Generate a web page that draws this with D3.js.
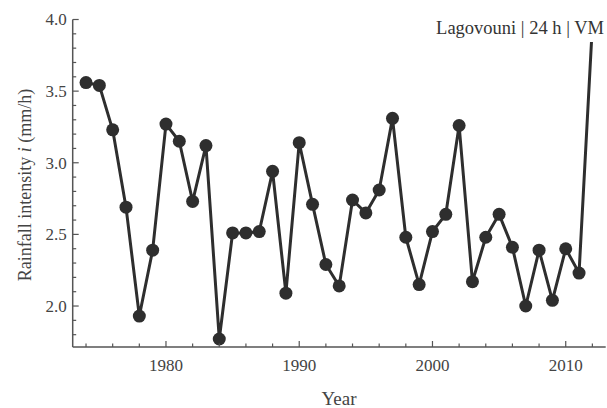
<!DOCTYPE html>
<html><head><meta charset="utf-8">
<script src="https://cdn.jsdelivr.net/npm/d3@7"></script>
<style>body{margin:0;background:#fff}svg{display:block}</style>
</head><body>
<svg id="c" width="607" height="408"></svg>
<script>
const years = d3.range(1974, 2013);
const intensity = [3.56,3.54,3.23,2.69,1.93,2.39,3.27,3.15,2.73,3.12,1.77,2.51,2.51,2.52,2.94,2.09,3.14,2.71,2.29,2.14,2.74,2.65,2.81,3.31,2.48,2.15,2.52,2.64,3.26,2.17,2.48,2.64,2.41,2.00,2.39,2.04,2.40,2.23,3.96];
const xMajorTicks = [1980,1990,2000,2010];
const yMajorTicks = [2.0,2.5,3.0,3.5,4.0];
const titleText = "Lagovouni | 24 h | VM";

const svg = d3.select("#c");
const x = d3.scaleLinear().domain([1973,2013]).range([72.7,605.7]);
const y = d3.scaleLinear().domain([1.714,4.0]).range([347,19.5]);
const axisCol = "#555", textCol = "#444", markCol = "#2e2e2e";
const font = "'Liberation Serif','Times New Roman',serif";

svg.append("clipPath").attr("id","clip").append("rect")
  .attr("x",x.range()[0]).attr("y",y.range()[1]).attr("width",x.range()[1]-x.range()[0]).attr("height",y.range()[0]-y.range()[1]);

const data = years.map((yr,i)=>({yr, v:intensity[i]}));
const g = svg.append("g").attr("clip-path","url(#clip)");
g.append("path").datum(data)
  .attr("fill","none").attr("stroke",markCol).attr("stroke-width",3).attr("stroke-linejoin","round")
  .attr("d", d3.line().x(d=>x(d.yr)).y(d=>y(d.v)));
g.selectAll("circle").data(data).join("circle")
  .attr("cx",d=>x(d.yr)).attr("cy",d=>y(d.v)).attr("r",6.5).attr("fill",markCol);

// axes
const xAxis = svg.append("g").attr("transform",`translate(0,${y.range()[0]})`);
xAxis.append("line").attr("x1",x.range()[0]).attr("x2",x.range()[1]).attr("stroke",axisCol).attr("stroke-width",1.5);
const xMinor = d3.range(1974, 2013, 2).filter(t=>!xMajorTicks.includes(t));
xAxis.selectAll(".xm").data(xMinor).join("line").attr("x1",d=>x(d)).attr("x2",d=>x(d)).attr("y1",0).attr("y2",-3.5).attr("stroke",axisCol).attr("stroke-width",1.2);
xAxis.selectAll(".xM").data(xMajorTicks).join("line").attr("x1",d=>x(d)).attr("x2",d=>x(d)).attr("y1",0).attr("y2",-6).attr("stroke",axisCol).attr("stroke-width",1.2);
xAxis.selectAll("text").data(xMajorTicks).join("text").attr("x",d=>x(d)).attr("y",24)
  .attr("text-anchor","middle").attr("font-family",font).attr("font-size",17).attr("fill",textCol).text(d=>d);

const yAxis = svg.append("g").attr("transform",`translate(${x.range()[0]},0)`);
yAxis.append("line").attr("y1",y.range()[0]).attr("y2",y.range()[1]).attr("stroke",axisCol).attr("stroke-width",1.5);
const yMinor = d3.range(18, 41).map(d=>d/10).filter(t=>!yMajorTicks.some(m=>Math.abs(m-t)<1e-9));
yAxis.selectAll(".ym").data(yMinor).join("line").attr("y1",d=>y(d)).attr("y2",d=>y(d)).attr("x1",0).attr("x2",3.5).attr("stroke",axisCol).attr("stroke-width",1.2);
yAxis.selectAll(".yM").data(yMajorTicks).join("line").attr("y1",d=>y(d)).attr("y2",d=>y(d)).attr("x1",0).attr("x2",6).attr("stroke",axisCol).attr("stroke-width",1.2);
yAxis.selectAll("text").data(yMajorTicks).join("text").attr("x",-6).attr("y",d=>y(d)).attr("dy","0.35em")
  .attr("text-anchor","end").attr("font-family",font).attr("font-size",17).attr("fill",textCol).text(d=>d.toFixed(1));

// axis titles
svg.append("text").attr("x",339).attr("y",405).attr("text-anchor","middle").attr("font-family",font).attr("font-size",19).attr("fill",textCol).text("Year");
const yt = svg.append("text").attr("transform","translate(31,185) rotate(-90)").attr("text-anchor","middle")
  .attr("font-family",font).attr("font-size",18).attr("fill",textCol);
yt.append("tspan").text("Rainfall intensity ");
yt.append("tspan").attr("font-style","italic").text("i");
yt.append("tspan").text(" (mm/h)");

// title label with white background
svg.append("rect").attr("x",430).attr("y",12).attr("width",177).attr("height",30).attr("fill","#fff");
svg.append("text").attr("x",604).attr("y",34).attr("text-anchor","end").attr("font-family",font).attr("font-size",18.5).attr("fill","#333").text(titleText);
</script>
</body></html>
